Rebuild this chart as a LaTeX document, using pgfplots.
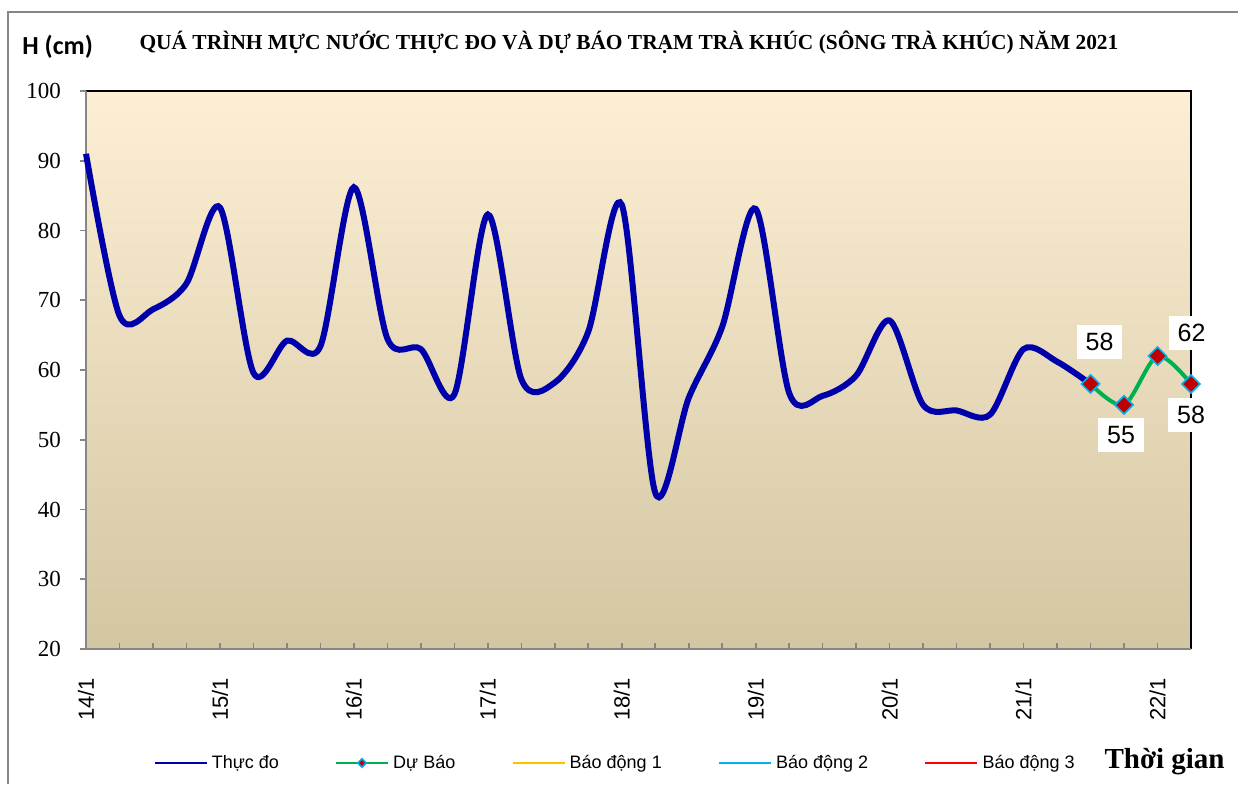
\documentclass[border=0pt]{standalone}
\usepackage{fontspec}
\usepackage{pgfplots}
\usepackage{pgfplotstable}
\pgfplotsset{compat=1.18}
\setmainfont{Liberation Sans}
\newfontfamily\serif{Liberation Serif}
\newfontfamily\calibri{Carlito}
\definecolor{obs}{RGB}{0,0,170}
\definecolor{fc}{RGB}{0,176,80}
\definecolor{mkfill}{RGB}{192,0,0}
\definecolor{mkedge}{RGB}{0,176,240}
\definecolor{bd1}{RGB}{255,192,0}
\definecolor{bd2}{RGB}{0,176,240}
\definecolor{bd3}{RGB}{255,0,0}
\definecolor{bgtop}{RGB}{253,239,212}
\definecolor{bgmid}{RGB}{243,233,211}
\definecolor{bgbot}{RGB}{211,198,162}
\definecolor{axgray}{RGB}{134,134,134}

\pgfplotstableread{
x y
0 91
1 67.8
2 68.7
3 72.4
4 83.3
5 59.6
6 64.2
7 63.4
8 86.2
9 64.5
10 63.0
11 56.5
12 82.3
13 58.7
14 58.2
15 65.5
16 83.7
17 42.4
18 56.0
19 66.2
20 83.1
21 56.7
22 56.3
23 59.2
24 67.1
25 55.0
26 54.2
27 53.6
28 63.0
29 61.2
30 58
}\obsdata

\pgfplotstableread{
x y dx dy
30 58 4.5 21
31 55 -1.5 -15
32 62 17 11.5
33 58 0 -15.5
}\fcdata

\begin{document}
\begin{tikzpicture}
\useasboundingbox (0,0) rectangle (619pt,392pt);
\draw[axgray, line width=1pt] (4pt,0) -- (4pt,386pt) -- (619pt,386pt);
\node[font=\calibri\bfseries\fontsize{13}{15}\selectfont, anchor=west, inner sep=0pt] at (11pt,368.5pt) {H (cm)};
\node[font=\serif\bfseries\fontsize{10.7}{12}\selectfont, inner sep=0pt] at (314.5pt,371pt) {QUÁ TRÌNH MỰC NƯỚC THỰC ĐO VÀ DỰ BÁO TRẠM TRÀ KHÚC (SÔNG TRÀ KHÚC) NĂM 2021};
\node[font=\serif\bfseries\fontsize{14.5}{16}\selectfont, anchor=east, inner sep=0pt] at (612.5pt,11pt) {Thời gian};

\begin{axis}[
  at={(43pt,67.5pt)}, anchor=south west,
  scale only axis, width=552.5pt, height=279pt,
  clip=false,
  xmin=0, xmax=33, ymin=20, ymax=100,
  ytick={20,30,...,100},
  xtick={0,4,...,32},
  xticklabels={14/1,15/1,16/1,17/1,18/1,19/1,20/1,21/1,22/1},
  minor xtick={1,2,3,5,6,7,9,10,11,13,14,15,17,18,19,21,22,23,25,26,27,29,30,31},
  xtick pos=bottom, ytick pos=left,
  xtick align=inside, ytick align=outside,
  major tick length=3pt, minor tick length=3pt,
  tick style={axgray, line width=0.8pt},
  axis line style={draw=none},
  axis background/.style={shade, top color=bgtop, middle color=bgmid, bottom color=bgbot},
  /pgf/number format/assume math mode=true,
  yticklabel style={font=\serif\fontsize{11.5}{13}\selectfont, xshift=-6pt},
  xticklabel style={font=\fontsize{11}{13}\selectfont, rotate=90, anchor=east},
  xticklabel shift=11pt,
  legend columns=5,
  legend style={at={(0.0606,-0.2043)}, anchor=west, draw=none, fill=none, inner sep=0pt,
    font=\fontsize{9}{11}\selectfont,
    /tikz/every even column/.append style={column sep=26pt}},
  legend image code/.code={\draw[mark repeat=2, mark phase=2, #1, line width=1.2pt] plot coordinates {(0pt,0pt) (13pt,0pt) (26pt,0pt)};},
]
\draw[black, line width=1pt] (rel axis cs:0,1) -- (rel axis cs:1,1) -- (rel axis cs:1,0);
\draw[axgray, line width=1pt] (rel axis cs:0,1) -- (rel axis cs:0,0) -- (rel axis cs:1,0);

\addplot[obs, line width=3pt, smooth, no markers] table[x=x,y=y] {\obsdata};
\addlegendentry{Thực đo}

\addplot[fc, line width=2pt, smooth,
  mark=square*, mark size=3.2pt,
  mark options={fill=mkfill, draw=mkedge, line width=0.8pt, solid, rotate=45},
  legend image post style={mark size=1.5pt},
  point meta=\thisrow{y},
  visualization depends on={\thisrow{dx} \as \dx},
  visualization depends on={\thisrow{dy} \as \dy},
  nodes near coords,
  every node near coord/.append style={anchor=center, xshift=\dx*1pt, yshift=\dy*1pt,
    fill=white, text=black, font=\fontsize{12.5}{14}\selectfont, inner xsep=4.5pt, inner ysep=4pt},
] table[x=x,y=y] {\fcdata};
\addlegendentry{Dự Báo}

\addlegendimage{bd1, line width=1.2pt}
\addlegendentry{Báo động 1}
\addlegendimage{bd2, line width=1.2pt}
\addlegendentry{Báo động 2}
\addlegendimage{bd3, line width=1.2pt}
\addlegendentry{Báo động 3}
\end{axis}
\end{tikzpicture}
\end{document}
